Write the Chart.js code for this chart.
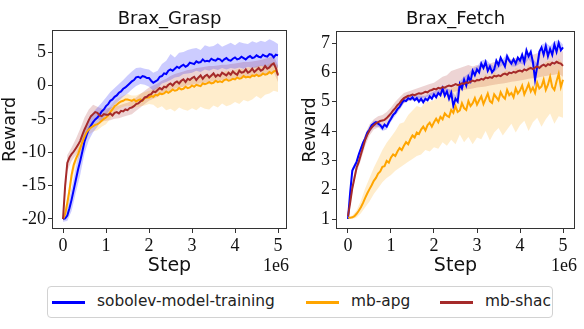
<!DOCTYPE html>
<html>
<head>
<meta charset="utf-8">
<script src="https://cdn.jsdelivr.net/npm/chart.js@4.4.0/dist/chart.umd.min.js"></script>
<style>
  body { margin: 0; background: #fff; width: 584px; height: 329px; position: relative; overflow: hidden; }
  .panel { position: absolute; top: 0; width: 292px; height: 285px; }
  #legend { position: absolute; left: 47px; top: 286px; width: 504px; height: 30px; border: 1px solid #d2d2d2; border-radius: 4px;
            font-family: 'DejaVu Sans', sans-serif; font-size: 15.4px; color: #222; }
  #legend .sw { position: absolute; top: 14px; width: 33px; height: 3px; }
  #legend .lb { position: absolute; top: 5px; white-space: nowrap; }
</style>
</head>
<body>
<div class="panel" style="left:0"><canvas id="grasp" width="292" height="285"></canvas></div>
<div class="panel" style="left:292px"><canvas id="fetch" width="292" height="285"></canvas></div>
<div id="legend"></div>

<script>
// ===================================================
// DATOS (step en unidades de 1e6)
// ===================================================

const SERIES = ['sobolev-model-training', 'mb-apg', 'mb-shac'];
const COLORS = ['#0000ff', '#ffa500', '#a52a2a'];
const BANDS = ['rgba(0,0,255,0.2)', 'rgba(255,165,0,0.2)', 'rgba(165,42,42,0.2)'];

// curvas cada 0.05e6 pasos, bandas cada 0.1e6
const stepsLine = Array.from({ length: 101 }, (_, i) => +(i * 0.05).toFixed(2));
const stepsBand = Array.from({ length: 51 }, (_, i) => +(i * 0.1).toFixed(1));

const xTicks = [0, 1, 2, 3, 4, 5];
const graspTicks = [-20, -15, -10, -5, 0, 5];
const fetchTicks = [1, 2, 3, 4, 5, 6, 7];

// --- Brax_Grasp ---
const graspSobolev = [-20.0, -19.9, -19.5, -18.4, -17.1, -15.6, -14.1, -12.6, -11.3, -9.9, -8.4, -7.4, -6.6, -6.0, -5.5, -5.1, -4.8, -4.4, -3.9, -3.6,
  -3.1, -2.8, -2.3, -2.1, -1.7, -1.5, -1.1, -0.9, -0.5, -0.3, 0.0, 0.3, 0.6, 0.8, 1.2, 1.3, 1.1, 1.4, 1.3, 1.1,
  1.1, 0.7, 0.4, 0.6, 0.8, 1.3, 1.4, 1.8, 1.7, 2.2, 2.4, 2.2, 2.5, 2.8, 2.6, 2.9, 3.1, 2.8, 3.0, 3.4,
  3.3, 3.2, 3.6, 3.4, 3.5, 3.9, 3.6, 3.7, 3.6, 4.0, 3.8, 3.7, 4.0, 3.9, 3.6, 3.9, 4.1, 3.8, 3.7, 4.0,
  4.2, 3.9, 4.0, 4.3, 4.1, 3.9, 4.2, 4.4, 4.1, 4.2, 4.5, 4.3, 4.2, 4.6, 4.4, 4.3, 4.7, 4.6, 4.2, 4.6, 4.5];
const graspApg = [-20.0, -19.3, -17.6, -15.7, -13.4, -11.9, -11.0, -10.3, -9.4, -8.5, -7.7, -7.0, -6.6, -6.3, -6.1, -5.9, -5.8, -5.6, -5.3, -5.0,
  -4.8, -4.5, -4.0, -3.6, -3.1, -2.9, -2.6, -2.4, -2.3, -2.1, -2.1, -2.2, -2.3, -2.1, -2.4, -2.2, -2.1, -2.3, -1.9, -1.8,
  -1.8, -1.6, -1.7, -1.4, -1.5, -1.2, -1.3, -1.2, -0.9, -1.1, -0.9, -0.6, -0.8, -0.7, -0.4, -0.6, -0.5, -0.2, -0.4, -0.3,
  0.0, -0.2, 0.1, 0.0, -0.1, 0.3, 0.2, 0.3, 0.5, 0.3, 0.4, 0.7, 0.5, 0.6, 0.5, 0.8, 0.9, 0.7, 0.8, 1.0,
  0.9, 1.2, 1.0, 1.1, 1.4, 1.2, 1.3, 1.2, 1.5, 1.4, 1.6, 1.4, 1.5, 1.8, 1.6, 1.7, 2.0, 1.8, 2.1, 2.2, 1.7];
const graspShac = [-20.0, -15.0, -11.6, -10.8, -10.3, -9.9, -9.4, -8.9, -8.3, -7.4, -6.6, -5.9, -5.2, -4.6, -4.3, -4.0, -4.1, -4.5, -4.6, -4.3,
  -4.4, -4.4, -4.2, -4.5, -4.1, -4.0, -4.2, -3.8, -3.9, -3.6, -3.7, -3.4, -3.3, -3.1, -2.8, -2.7, -2.4, -2.2, -1.8, -1.7,
  -1.4, -1.3, -0.9, -1.0, -0.7, -0.4, -0.6, -0.2, -0.3, 0.1, 0.3, 0.0, 0.4, 0.6, 0.3, 0.7, 0.9, 0.5, 1.0, 0.8,
  1.1, 1.3, 0.8, 1.2, 1.5, 1.0, 1.4, 1.6, 1.2, 1.5, 1.8, 1.3, 1.6, 1.4, 1.9, 1.7, 1.5, 1.9, 1.6, 2.1,
  1.8, 1.6, 2.2, 1.9, 2.0, 2.4, 1.9, 2.1, 2.5, 2.0, 2.3, 2.6, 2.2, 2.4, 2.9, 2.5, 2.7, 3.1, 3.3, 2.6, 1.5];

const graspSobolevHi = [-19.5, -18.3, -15.4, -12.2, -9.2, -6.6, -5.0, -4.0, -3.3, -2.6, -1.8, -1.0, -0.4, 0.2, 0.8, 1.5, 2.1, 2.6, 2.7, 2.5,
  2.4, 1.9, 2.2, 3.2, 3.7, 4.7, 4.2, 4.9, 5.0, 5.3, 5.5, 5.6, 5.3, 6.0, 5.8, 5.9, 6.3, 5.8, 6.1, 6.4,
  6.0, 6.5, 6.3, 6.2, 6.6, 6.4, 6.7, 6.5, 6.9, 6.6, 6.2];
const graspSobolevLo = [-20.4, -20.3, -18.8, -16.0, -13.4, -10.2, -8.2, -7.0, -6.2, -5.2, -4.4, -3.6, -2.9, -2.3, -1.7, -1.2, -0.6, -0.1, 0.2, 0.1,
  -0.2, -0.8, -0.4, 0.3, 0.5, 0.8, 1.2, 1.3, 1.7, 1.8, 1.9, 2.2, 2.0, 2.4, 2.2, 2.5, 2.3, 2.6, 2.4, 2.6,
  2.5, 2.7, 2.5, 2.8, 2.6, 2.7, 2.9, 2.8, 2.7, 2.9, 2.6];
const graspApgHi = [-19.6, -16.8, -12.4, -10.2, -8.5, -6.8, -5.9, -5.4, -5.0, -4.5, -3.9, -3.1, -2.3, -1.8, -1.5, -1.3, -1.5, -1.5, -1.2, -1.0,
  -0.8, -0.6, -0.2, -0.3, 0.2, 0.3, 0.4, 0.8, 0.7, 1.1, 1.0, 1.2, 1.5, 1.3, 1.6, 1.8, 1.7, 1.9, 2.2, 2.1,
  2.3, 2.5, 2.4, 2.7, 2.6, 2.9, 3.0, 2.9, 3.3, 3.5, 3.0];
const graspApgLo = [-20.4, -18.6, -14.6, -11.9, -10.3, -8.7, -7.4, -6.9, -6.7, -6.2, -5.8, -5.0, -4.0, -3.5, -3.2, -3.0, -3.2, -3.3, -3.1, -3.0,
  -2.8, -2.9, -3.4, -3.1, -3.7, -3.5, -3.9, -3.3, -3.6, -3.8, -3.4, -3.7, -3.2, -3.5, -3.6, -3.0, -3.3, -2.7, -3.1, -2.9,
  -2.5, -2.8, -2.2, -2.4, -2.1, -1.6, -2.0, -1.4, -1.2, -0.8, -1.0];
const graspShacHi = [-19.6, -10.4, -9.3, -8.0, -6.5, -4.8, -3.6, -2.9, -3.2, -3.5, -3.5, -3.3, -3.2, -3.0, -2.8, -2.6, -2.3, -1.8, -1.3, -0.8,
  -0.3, 0.0, 0.3, 0.7, 1.0, 1.4, 1.7, 1.9, 2.1, 2.3, 2.4, 2.6, 2.7, 2.8, 2.9, 2.9, 3.0, 3.1, 3.1, 3.2,
  3.3, 3.4, 3.5, 3.5, 3.6, 3.7, 3.8, 4.0, 4.2, 4.4, 3.0];
const graspShacLo = [-20.4, -12.8, -11.3, -10.4, -9.4, -7.8, -6.3, -5.3, -5.0, -5.4, -5.3, -5.2, -5.0, -4.9, -4.7, -4.5, -4.3, -3.8, -3.3, -2.8,
  -2.3, -2.0, -1.7, -1.3, -1.0, -0.8, -0.5, -0.3, -0.2, 0.0, 0.1, 0.2, 0.3, 0.4, 0.5, 0.6, 0.7, 0.8, 0.8, 0.9,
  1.0, 1.1, 1.2, 1.2, 1.3, 1.4, 1.5, 1.6, 1.8, 2.0, 0.5];

// --- Brax_Fetch ---
const fetchSobolev = [1.00, 1.90, 2.65, 2.80, 2.95, 3.20, 3.40, 3.60, 3.75, 3.95, 4.05, 4.20, 4.25, 4.30, 4.25, 4.20, 4.10, 4.22, 4.15, 4.30,
  4.42, 4.55, 4.62, 4.75, 4.82, 4.95, 5.05, 5.02, 5.12, 5.08, 5.15, 5.05, 5.12, 5.00, 5.10, 4.98, 5.10, 5.05, 5.18, 5.10,
  5.25, 5.15, 5.30, 5.22, 5.45, 5.20, 5.35, 5.10, 5.30, 4.85, 5.10, 5.00, 5.60, 5.45, 5.75, 5.55, 5.85, 5.70, 6.05, 5.90,
  6.10, 6.00, 6.30, 6.15, 6.35, 6.05, 6.20, 6.00, 6.10, 6.40, 6.25, 6.50, 6.35, 6.20, 6.55, 6.40, 6.30, 6.45, 6.30, 6.50,
  6.40, 6.60, 6.35, 6.75, 6.55, 6.70, 6.35, 5.75, 6.20, 6.70, 6.85, 6.60, 6.90, 6.55, 6.80, 6.60, 6.95, 6.70, 7.00, 6.75, 6.85];
const fetchApg = [1.05, 1.04, 1.06, 1.10, 1.18, 1.28, 1.40, 1.55, 1.72, 1.88, 2.02, 2.15, 2.30, 2.40, 2.55, 2.62, 2.78, 2.80, 2.98, 2.92,
  3.10, 3.20, 3.15, 3.30, 3.42, 3.35, 3.50, 3.62, 3.55, 3.72, 3.85, 3.78, 3.95, 3.90, 4.05, 4.15, 4.02, 4.20, 4.28, 4.15,
  4.30, 4.42, 4.30, 4.48, 4.40, 4.60, 4.52, 4.48, 4.72, 4.62, 4.85, 4.65, 4.70, 4.95, 4.78, 4.72, 5.02, 4.85, 4.95, 5.12,
  4.90, 5.05, 5.18, 4.92, 5.10, 5.28, 5.02, 4.96, 5.25, 5.15, 5.05, 5.32, 5.18, 5.10, 5.40, 5.22, 5.30, 5.15, 5.45, 5.28,
  5.38, 5.55, 5.25, 5.42, 5.60, 5.35, 5.48, 5.30, 5.65, 5.45, 5.52, 5.75, 5.40, 5.58, 5.85, 5.50, 5.40, 5.70, 5.95, 5.50, 5.75];
const fetchShac = [1.10, 1.55, 2.05, 2.40, 2.75, 2.95, 3.20, 3.45, 3.70, 3.88, 4.02, 4.12, 4.20, 4.26, 4.30, 4.34, 4.36, 4.38, 4.44, 4.52,
  4.60, 4.70, 4.78, 4.88, 4.95, 5.05, 5.12, 5.16, 5.20, 5.21, 5.24, 5.22, 5.26, 5.29, 5.27, 5.30, 5.34, 5.32, 5.38, 5.40,
  5.44, 5.42, 5.47, 5.45, 5.50, 5.48, 5.52, 5.55, 5.53, 5.56, 5.60, 5.57, 5.58, 5.63, 5.61, 5.66, 5.64, 5.68, 5.72, 5.69,
  5.74, 5.73, 5.78, 5.75, 5.82, 5.80, 5.84, 5.81, 5.88, 5.86, 5.90, 5.87, 5.93, 5.96, 5.92, 5.99, 5.97, 6.02, 5.99, 6.04,
  6.06, 6.03, 6.10, 6.07, 6.12, 6.15, 6.11, 6.16, 6.20, 6.15, 6.22, 6.26, 6.21, 6.28, 6.25, 6.33, 6.30, 6.36, 6.32, 6.30, 6.22];

const fetchSobolevHi = [1.05, 2.75, 3.05, 3.5, 3.85, 4.15, 4.35, 4.35, 4.2, 4.25, 4.52, 4.72, 4.92, 5.15, 5.22, 5.25, 5.22, 5.2, 5.2, 5.28,
  5.35, 5.4, 5.55, 5.45, 5.4, 5.2, 5.7, 5.85, 5.95, 6.15, 6.2, 6.4, 6.45, 6.3, 6.2, 6.35, 6.45, 6.65, 6.4, 6.4,
  6.5, 6.45, 6.65, 6.45, 6.3, 6.95, 7.0, 6.9, 7.05, 7.1, 6.95];
const fetchSobolevLo = [0.95, 2.55, 2.85, 3.3, 3.65, 3.95, 4.15, 4.15, 4.0, 4.05, 4.32, 4.52, 4.72, 4.95, 5.02, 5.05, 5.02, 5.0, 5.0, 5.08,
  5.15, 5.2, 5.35, 5.25, 5.2, 5.0, 5.5, 5.65, 5.75, 5.95, 6.0, 6.2, 6.25, 6.1, 6.0, 6.15, 6.25, 6.45, 6.2, 6.2,
  6.3, 6.25, 6.45, 6.25, 6.1, 6.75, 6.8, 6.7, 6.85, 6.9, 6.75];
const fetchApgHi = [1.08, 1.12, 1.3, 1.62, 2.05, 2.4, 2.75, 3.05, 3.35, 3.6, 3.8, 4.0, 4.25, 4.3, 4.55, 4.7, 4.85, 4.8, 5.0, 5.0,
  5.05, 5.18, 5.35, 5.22, 5.45, 5.52, 5.58, 5.5, 5.78, 5.65, 5.82, 5.72, 5.95, 5.78, 6.02, 5.88, 6.0, 6.08, 5.92, 6.15,
  6.1, 6.02, 6.25, 6.12, 6.3, 6.18, 6.35, 6.4, 6.22, 6.48, 6.3];
const fetchApgLo = [1.02, 1.0, 1.05, 1.2, 1.4, 1.6, 1.85, 2.05, 2.25, 2.4, 2.5, 2.65, 2.75, 2.85, 2.95, 3.05, 3.15, 3.2, 3.35, 3.3,
  3.45, 3.4, 3.62, 3.5, 3.7, 3.55, 3.88, 3.62, 3.8, 3.55, 3.78, 3.72, 4.0, 3.68, 3.95, 4.1, 3.85, 4.05, 4.25, 3.95,
  4.2, 4.35, 4.0, 4.3, 4.45, 4.15, 4.4, 4.6, 4.25, 4.5, 4.45];
const fetchShacHi = [1.15, 2.2, 2.95, 3.4, 3.9, 4.22, 4.4, 4.5, 4.55, 4.65, 4.8, 5.0, 5.15, 5.3, 5.35, 5.4, 5.45, 5.5, 5.55, 5.6,
  5.65, 5.75, 5.85, 5.9, 6.05, 6.1, 6.15, 6.2, 6.25, 6.2, 6.25, 6.2, 6.25, 6.3, 6.35, 6.35, 6.4, 6.45, 6.45, 6.5,
  6.5, 6.55, 6.6, 6.6, 6.65, 6.7, 6.7, 6.75, 6.8, 6.8, 6.7];
const fetchShacLo = [1.05, 1.9, 2.6, 3.0, 3.5, 3.85, 4.05, 4.12, 4.18, 4.25, 4.4, 4.58, 4.78, 4.95, 5.02, 5.05, 5.1, 5.12, 5.15, 5.2,
  5.22, 5.25, 5.28, 5.3, 5.32, 5.35, 5.38, 5.4, 5.42, 5.45, 5.48, 5.5, 5.52, 5.55, 5.58, 5.6, 5.62, 5.65, 5.68, 5.7,
  5.72, 5.75, 5.78, 5.8, 5.82, 5.85, 5.88, 5.9, 5.92, 5.95, 5.85];

// ===================================================
// UTILITARIAS
// ===================================================

function pts(xs, ys) {
  return ys.map((y, i) => ({ x: xs[i], y: y }));
}

function buildDatasets(lines, bands) {
  const ds = [];
  bands.forEach(([hi, lo], k) => {
    ds.push({ data: pts(stepsBand, hi), borderWidth: 0, pointRadius: 0, fill: '+1', backgroundColor: BANDS[k], order: 10 + k });
    ds.push({ data: pts(stepsBand, lo), borderWidth: 0, pointRadius: 0, fill: false, order: 10 + k });
  });
  lines.forEach((ys, k) => {
    ds.push({ label: SERIES[k], data: pts(stepsLine, ys), borderColor: COLORS[k], borderWidth: 2, pointRadius: 0,
      fill: false, tension: 0, order: 2 - k });
  });
  return ds;
}

// marco, titulo y "1e6"
const panelDeco = {
  id: 'panelDeco',
  afterDraw(chart, args, opts) {
    const { ctx, chartArea: a } = chart;
    ctx.save();
    ctx.strokeStyle = '#333';
    ctx.lineWidth = 1;
    ctx.strokeRect(a.left + 0.5, a.top + 0.5, a.right - a.left - 1, a.bottom - a.top - 1);
    ctx.fillStyle = '#111';
    ctx.textBaseline = 'alphabetic';
    ctx.textAlign = 'center';
    ctx.font = "18px 'DejaVu Sans'";
    ctx.fillText(opts.title, (a.left + a.right) / 2, 24);
    ctx.textAlign = 'right';
    ctx.font = "18px 'Liberation Serif'";
    ctx.fillText('1e6', a.right + 2, 271);
    ctx.restore();
  }
};

function makeChart(id, cfg) {
  const tickFont = { family: 'Liberation Serif', size: 18 };
  return new Chart(document.getElementById(id), {
    type: 'line',
    data: { datasets: buildDatasets(cfg.lines, cfg.bands) },
    plugins: [panelDeco],
    options: {
      responsive: false,
      animation: false,
      events: [],
      layout: { padding: { left: 0, right: cfg.padRight, top: cfg.padTop, bottom: 0 } },
      plugins: {
        legend: { display: false },
        tooltip: { enabled: false },
        panelDeco: { title: cfg.title }
      },
      scales: {
        x: {
          type: 'linear', min: cfg.xMin, max: cfg.xMax,
          afterBuildTicks: s => { s.ticks = xTicks.map(v => ({ value: v })); },
          afterFit: s => { s.height = 56; },
          grid: { drawOnChartArea: false, tickLength: 4, color: '#333' },
          border: { display: false },
          ticks: { font: tickFont, color: '#111', padding: 2, maxRotation: 0, callback: v => String(v) },
          title: { display: true, text: 'Step', font: { family: 'DejaVu Sans', size: 19 }, color: '#111', padding: { top: 0, bottom: 8 } }
        },
        y: {
          type: 'linear', min: cfg.yMin, max: cfg.yMax,
          afterBuildTicks: s => { s.ticks = cfg.yTicks.map(v => ({ value: v })); },
          afterFit: s => { s.width = cfg.yWidth; },
          grid: { drawOnChartArea: false, tickLength: 4, color: '#333' },
          border: { display: false },
          ticks: { font: tickFont, color: '#111', padding: 2, callback: v => String(v) },
          title: { display: true, text: 'Reward', font: { family: 'DejaVu Sans', size: 17.5 }, color: '#111', padding: { top: cfg.yTitlePad, bottom: 0 } }
        }
      }
    }
  });
}

function buildLegend() {
  const leg = document.getElementById('legend');
  const pos = [[4, 49], [258, 303], [392, 437]];
  SERIES.forEach((name, k) => {
    const sw = document.createElement('div');
    sw.className = 'sw';
    sw.style.left = pos[k][0] + 'px';
    sw.style.background = COLORS[k];
    const lb = document.createElement('div');
    lb.className = 'lb';
    lb.style.left = pos[k][1] + 'px';
    lb.textContent = name;
    leg.appendChild(sw);
    leg.appendChild(lb);
  });
}

// ===================================================
// INICIALIZACIÓN
// ===================================================

makeChart('grasp', {
  title: 'Brax_Grasp',
  lines: [graspSobolev, graspApg, graspShac],
  bands: [[graspSobolevHi, graspSobolevLo], [graspApgHi, graspApgLo], [graspShacHi, graspShacLo]],
  xMin: -0.256, xMax: 5.209, yMin: -21.5, yMax: 8.3, yTicks: graspTicks,
  padRight: 5, padTop: 30, yWidth: 52, yTitlePad: 0
});

makeChart('fetch', {
  title: 'Brax_Fetch',
  lines: [fetchSobolev, fetchApg, fetchShac],
  bands: [[fetchSobolevHi, fetchSobolevLo], [fetchApgHi, fetchApgLo], [fetchShacHi, fetchShacLo]],
  xMin: -0.279, xMax: 5.279, yMin: 0.66, yMax: 7.41, yTicks: fetchTicks,
  padRight: 9, padTop: 31, yWidth: 44, yTitlePad: 8
});

buildLegend();
</script>
</body>
</html>
